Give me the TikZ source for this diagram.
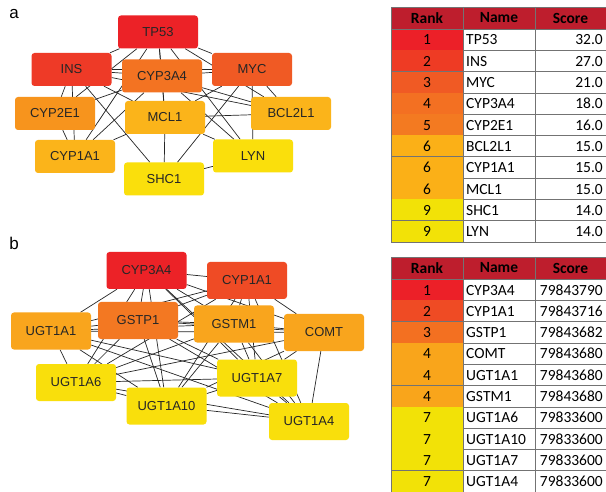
\documentclass[tikz,border=0pt]{standalone}
\usepackage{fontspec}
\setmainfont{Liberation Sans}
\newfontfamily\calfont{Carlito}
\usetikzlibrary{backgrounds}
\definecolor{nA1}{HTML}{EC2227}
\definecolor{nA2}{HTML}{EE3A27}
\definecolor{nA3}{HTML}{F05A24}
\definecolor{nA4}{HTML}{F37322}
\definecolor{nA5}{HTML}{F7941D}
\definecolor{nA6}{HTML}{FBB41A}
\definecolor{nA9}{HTML}{FADF0C}
\definecolor{nB1}{HTML}{EC2227}
\definecolor{nB2}{HTML}{EF4B25}
\definecolor{nB3}{HTML}{F37822}
\definecolor{nB4}{HTML}{F9A51D}
\definecolor{nB7}{HTML}{F9DF0C}
\definecolor{hdr}{HTML}{BE1E2D}
\definecolor{ra1}{HTML}{EC2028}
\definecolor{ra2}{HTML}{EE3B24}
\definecolor{ra3}{HTML}{F05A24}
\definecolor{ra4}{HTML}{F37022}
\definecolor{ra5}{HTML}{F37A21}
\definecolor{ra6}{HTML}{FBB017}
\definecolor{ra9}{HTML}{F2E207}
\definecolor{rb1}{HTML}{EC2028}
\definecolor{rb2}{HTML}{EF4B24}
\definecolor{rb3}{HTML}{F37021}
\definecolor{rb4}{HTML}{F9A51B}
\definecolor{rb7}{HTML}{F2E207}
\begin{document}
\begin{tikzpicture}[x=1pt,y=-1pt,
  gene/.style={rectangle, rounded corners=3pt, minimum width=80pt, minimum height=33pt, inner sep=0pt, font=\fontsize{13}{15}\selectfont, text=black!85},
  geneb/.style={gene, minimum height=37pt},
  link/.style={draw=black!85, line width=0.7pt},
  panel/.style={font=\fontsize{17}{20}\selectfont, inner sep=0pt},
  cell/.style={font=\calfont\fontsize{15.5}{18}\selectfont, inner sep=0pt},
  hcell/.style={cell, font=\calfont\bfseries\fontsize{15.5}{18}\selectfont},
  grid/.style={draw=black!55, line width=0.6pt}]
\useasboundingbox (0,0) rectangle (606,492);
\begin{pgfonlayer}{background}
\fill[white] (0,0) rectangle (606,492);
\end{pgfonlayer}

% ---------------- panel labels
\node[panel] (la) at (14,14) {a};
\node[panel] (lb) at (14,243) {b};

% ---------------- network a
\node[gene, fill=nA1] (TP53) at (158,32) {TP53};
\node[gene, fill=nA2] (INS) at (71.5,69.5) {INS};
\node[gene, fill=nA4] (CYPa) at (162,76) {CYP3A4};
\node[gene, fill=nA3] (MYC) at (252,69.5) {MYC};
\node[gene, fill=nA5] (CYP2E1) at (55,113.5) {CYP2E1};
\node[gene, fill=nA6] (MCL1) at (165,117.5) {MCL1};
\node[gene, fill=nA6] (BCL2L1) at (291,113.5) {BCL2L1};
\node[gene, fill=nA6] (CYP1A1a) at (75,156.5) {CYP1A1};
\node[gene, fill=nA9] (LYN) at (253,156) {LYN};
\node[gene, fill=nA9] (SHC1) at (164,179) {SHC1};

\begin{scope}[on background layer]
\foreach \a/\b in {TP53/INS, TP53/CYPa, TP53/MYC, TP53/CYP2E1, TP53/CYP1A1a, TP53/MCL1, TP53/BCL2L1, TP53/LYN,
  INS/CYPa, INS/MYC, INS/CYP2E1, INS/CYP1A1a, INS/SHC1, INS/BCL2L1, INS/MCL1,
  MYC/CYPa, MYC/MCL1, MYC/BCL2L1, MYC/LYN, MYC/SHC1,
  CYPa/CYP2E1, CYPa/CYP1A1a, CYPa/MCL1, CYPa/BCL2L1, CYPa/LYN,
  CYP2E1/CYP1A1a, MCL1/BCL2L1, MCL1/LYN, MCL1/SHC1, MCL1/CYP1A1a, SHC1/LYN}
  {\draw[link] (\a) -- (\b);}
\end{scope}

% ---------------- network b
\node[geneb, fill=nB1] (CYPb) at (146.5,270.5) {CYP3A4};
\node[geneb, fill=nB2] (CYP1A1b) at (247,280.5) {CYP1A1};
\node[geneb, fill=nB3] (GSTP1) at (138,320.5) {GSTP1};
\node[geneb, fill=nB4] (UGT1A1) at (51,331) {UGT1A1};
\node[geneb, fill=nB4] (GSTM1) at (234,324) {GSTM1};
\node[geneb, fill=nB4] (COMT) at (324,332.5) {COMT};
\node[geneb, fill=nB7] (UGT1A6) at (76,382.5) {UGT1A6};
\node[geneb, fill=nB7] (UGT1A7) at (257,378) {UGT1A7};
\node[geneb, fill=nB7] (UGT1A10) at (166.5,406) {UGT1A10};
\node[geneb, fill=nB7] (UGT1A4) at (309,421.5) {UGT1A4};

\begin{scope}[on background layer]
\foreach \a [count=\i] in {CYPb,CYP1A1b,GSTP1,UGT1A1,GSTM1,COMT,UGT1A6,UGT1A7,UGT1A10,UGT1A4} {
  \foreach \b [count=\j] in {CYPb,CYP1A1b,GSTP1,UGT1A1,GSTM1,COMT,UGT1A6,UGT1A7,UGT1A10,UGT1A4} {
    \ifnum\j>\i\relax \draw[link] (\a) -- (\b); \fi
  }
}
\end{scope}

% ---------------- table a
\fill[hdr] (391,7) rectangle (606,29);
\node[hcell] (ta-h1) at (427,18) {Rank};
\node[hcell] (ta-h2) at (499,18) {Name};
\node[hcell] (ta-h3) at (570.5,18) {Score};
\foreach \r/\n/\s/\c [count=\i] in {1/TP53/32.0/ra1, 2/INS/27.0/ra2, 3/MYC/21.0/ra3, 4/CYP3A4/18.0/ra4, 5/CYP2E1/16.0/ra5,
  6/BCL2L1/15.0/ra6, 6/CYP1A1/15.0/ra6, 6/MCL1/15.0/ra6, 9/SHC1/14.0/ra9, 9/LYN/14.0/ra9} {
  \pgfmathsetmacro\yt{29+(\i-1)*21.3}
  \fill[\c] (391,\yt) rectangle (463,\yt+21.3);
  \node[cell, anchor=base] (ta-k\i) at (427,\yt+16) {\r};
  \node[cell, anchor=base west] (ta-n\i) at (466,\yt+16) {\n};
  \node[cell, anchor=base east] (ta-s\i) at (603,\yt+16) {\s};
  \draw[grid] (391,\yt+21.3) -- (606,\yt+21.3);
}
\draw[grid] (391,7) rectangle (606,242);
\draw[grid] (463,7) -- (463,242);
\draw[grid] (535,7) -- (535,242);
\draw[grid] (391,29) -- (606,29);

% ---------------- table b
\fill[hdr] (391,257) rectangle (606,279);
\node[hcell] (tb-h1) at (427,268) {Rank};
\node[hcell] (tb-h2) at (499,268) {Name};
\node[hcell] (tb-h3) at (570.5,268) {Score};
\foreach \r/\n/\s/\c [count=\i] in {1/CYP3A4/79843790/rb1, 2/CYP1A1/79843716/rb2, 3/GSTP1/79843682/rb3, 4/COMT/79843680/rb4, 4/UGT1A1/79843680/rb4,
  4/GSTM1/79843680/rb4, 7/UGT1A6/79833600/rb7, 7/UGT1A10/79833600/rb7, 7/UGT1A7/79833600/rb7, 7/UGT1A4/79833600/rb7} {
  \pgfmathsetmacro\yt{279+(\i-1)*21.3}
  \fill[\c] (391,\yt) rectangle (463,\yt+21.3);
  \node[cell, anchor=base] (tb-k\i) at (427,\yt+16) {\r};
  \node[cell, anchor=base west] (tb-n\i) at (466,\yt+16) {\n};
  \node[cell, anchor=base east] (tb-s\i) at (603,\yt+16) {\s};
  \draw[grid] (391,\yt+21.3) -- (606,\yt+21.3);
}
\draw[grid] (391,257) rectangle (606,492);
\draw[grid] (463,257) -- (463,492);
\draw[grid] (535,257) -- (535,492);
\draw[grid] (391,279) -- (606,279);
\end{tikzpicture}
\end{document}
